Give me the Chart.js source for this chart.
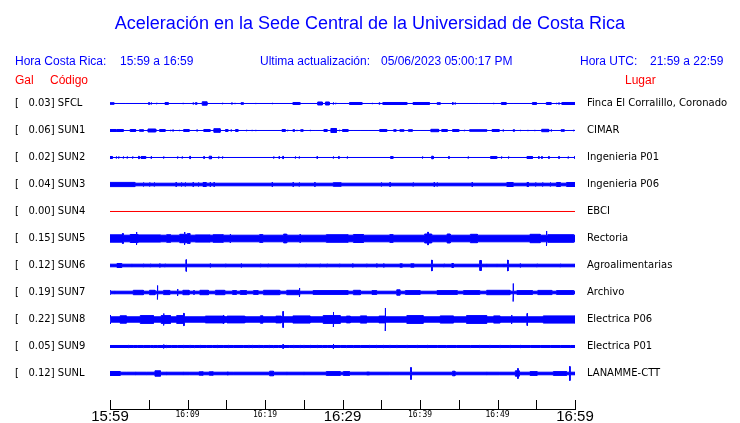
<!DOCTYPE html>
<html>
<head>
<meta charset="utf-8">
<script src="https://cdn.jsdelivr.net/npm/chart.js@4.4.0/dist/chart.umd.min.js"></script>
<style>
  html, body { margin: 0; padding: 0; background: #fff; }
  #wrap { position: relative; width: 740px; height: 423px; overflow: hidden;
          font-family: "Liberation Sans", Arial, sans-serif; }
  #wrap canvas { position: absolute; left: 0; top: 0; }
  .txt { position: absolute; white-space: pre; font-size: 12px; line-height: 14px; color: #0000ff; }
  .red { color: #ff0000; }
  #title { position: absolute; left: 0; top: 14px; width: 740px; text-align: center;
           font-size: 18px; line-height: 18px; color: #0000ff; }
</style>
</head>
<body>
<div id="wrap">
  <canvas id="sismo" width="740" height="423"></canvas>
  <div id="title">Aceleración en la Sede Central de la Universidad de Costa Rica</div>
  <div class="txt" style="left:15px;top:54px">Hora Costa Rica:</div>
  <div class="txt" style="left:120px;top:54px">15:59 a 16:59</div>
  <div class="txt" style="left:260px;top:54px">Ultima actualización:</div>
  <div class="txt" style="left:381px;top:54px">05/06/2023 05:00:17 PM</div>
  <div class="txt" style="left:580px;top:54px">Hora UTC:</div>
  <div class="txt" style="left:650px;top:54px">21:59 a 22:59</div>
  <div class="txt red" style="left:15px;top:73px">Gal</div>
  <div class="txt red" style="left:50px;top:73px">Código</div>
  <div class="txt red" style="left:625px;top:73px">Lugar</div>
</div>
<script>
// ── Datos ────────────────────────────────────────────────
const CODES = ["SFCL", "SUN1", "SUN2", "SUN3", "SUN4", "SUN5", "SUN6", "SUN7", "SUN8", "SUN9", "SUNL"];
const PEAK_GAL = [0.03, 0.06, 0.02, 0.04, 0.00, 0.15, 0.12, 0.19, 0.22, 0.05, 0.12];
const PLACES = ["Finca El Corralillo, Coronado", "CIMAR", "Ingenieria P01", "Ingenieria P06", "EBCI",
  "Rectoria", "Agroalimentarias", "Archivo", "Electrica P06", "Electrica P01", "LANAMME-CTT"];
const TIME_LABELS = ["15:59", "16:09", "16:19", "16:29", "16:39", "16:49", "16:59"];

// nivel de ruido de fondo de cada traza (1/27 de la separacion entre canales)
const BASE = [0.5, 0.5, 0.5, 1.8, 0.5, 3.8, 1.8, 1.8, 3.2, 1.5, 1.8];

// rafagas: [minuto inicio, minuto fin, semi-amplitud]
const SFCL_EV = [[0,0.5,1.3],[2.0,2.0,1],[5.0,5.0,1.5],[5.3,5.3,1.5],[6.0,6.0,1.2],[7.1,7.5,1.5],[9.4,9.4,1],
  [10.7,10.7,1.2],[11.0,11.2,1.3],[11.9,12.5,2.2],[14.5,14.5,1.2],[15.1,15.1,1],[15.7,15.7,1.2],[16.1,16.1,1],
  [16.9,17.2,1.3],[18.8,18.8,0.8],[20.9,20.9,1],[21.2,21.2,1],[23.6,24.5,1.5],[26.8,27.4,2],[27.8,28.3,2],
  [28.8,28.8,1.5],[29.1,29.1,1.2],[29.7,29.7,1],[30.5,30.5,1],[30.9,32.5,1.5],[33.8,33.8,1],[34.2,34.2,1],
  [34.7,34.8,1.2],[35.2,38.3,1.5],[39.1,41.2,1.5],[42.2,42.6,1.3],[44.2,44.2,1.5],[44.5,44.5,1.2],[47.5,47.5,0.8],
  [49.5,49.5,1],[50.5,51.1,1.5],[52.0,52.0,1],[54.5,55.0,1.5],[56.3,56.9,1.5],[57.6,57.6,1.2],[57.9,57.9,1.2],
  [58.3,60,1.5]];
const SUN1_EV = [[0,0.8,1.5],[0.9,1.7,1.5],[2.6,3.3,1.5],[3.8,4.3,1.3],[4.9,5.9,2],[6.4,7.1,1.5],[7.8,7.8,1.2],
  [8.1,8.1,1.2],[8.9,8.9,1],[9.5,10.2,1.5],[11.2,11.2,1.2],[12.1,12.9,1.5],[13.4,14.2,2.3],[14.9,15.2,1.5],
  [15.6,15.6,1.2],[16.2,16.5,1.5],[17.6,17.6,1.2],[18.3,18.3,1],[18.8,18.8,1],[22.2,22.6,1.5],[22.9,22.9,1.2],
  [23.6,23.8,1.3],[24.1,24.1,1],[24.6,24.9,1.3],[25.8,25.8,1],[26.5,26.5,1],[27.6,28.0,1.5],[28.5,29.2,2.5],
  [29.6,29.6,1.2],[30.0,30.7,1.5],[31.4,31.4,1],[32.3,32.3,1],[33.3,33.3,1],[34.8,35.7,1.5],[36.6,36.9,1.3],
  [37.4,37.9,1.3],[38.5,39.0,1.3],[40.0,40.0,1],[40.8,40.8,1],[41.4,42.4,1.7],[42.8,43.5,1.5],[44.2,45.0,1.5],
  [45.7,45.8,1.2],[46.4,48.6,1.3],[49.3,50.2,1.5],[50.7,50.7,1.2],[52.0,52.2,1.2],[52.9,52.9,1],[53.9,53.9,1],
  [54.8,54.8,1],[55.7,56.6,1.7],[56.9,56.9,1.2],[58.2,58.6,1.3],[59.4,59.4,1],[59.8,59.8,1.2]];
const SUN2_EV = [[0,0.3,1.5],[0.8,0.8,1.5],[1.1,1.1,1.5],[1.7,1.7,1.5],[2.2,2.2,1.5],[2.9,2.9,1.5],[3.7,3.7,1.8],
  [4.0,4.6,1.5],[5.3,5.3,1.8],[6.9,6.9,1.5],[8.7,8.7,1.5],[9.3,9.3,1.5],[10.3,10.3,1.8],[12.1,12.1,1.5],
  [12.8,13.1,1.8],[14.0,14.0,1.5],[14.5,14.5,1.5],[21.1,21.1,1.5],[21.8,21.8,1.5],[22.3,22.3,1.8],[23.9,23.9,1.5],
  [24.4,24.4,1.5],[26.7,26.7,1.5],[28.8,28.8,1.5],[29.5,29.5,1.5],[30.6,30.6,1.5],[36.2,36.5,1.5],[40.3,40.3,1.5],
  [41.5,41.7,1.8],[43.7,43.7,1.5],[46.2,46.2,1.5],[49.1,49.9,1.5],[50.5,50.5,1.5],[51.4,51.4,1.5],[53.8,54.5,1.5],
  [55.3,55.3,1.5],[55.7,55.7,1.5],[56.6,56.6,1.5],[57.9,57.9,1.5],[59.1,59.1,1.5],[60,60,1.5]];
const SUN3_EV = [[0,3.2,2.6],[4.3,4.3,2.5],[5.1,5.1,2.5],[5.7,5.7,2.5],[8.5,8.5,2.5],[9.2,9.2,2.5],[9.7,9.7,2.5],
  [10.7,10.7,2.5],[11.4,11.4,2.5],[12.0,12.4,2.5],[12.9,12.9,2.5],[13.4,13.4,2.5],[20.9,20.9,2.5],[23.6,23.6,2.5],
  [24.4,24.4,2.5],[26.4,26.4,2.5],[28.8,29.8,2.3],[35.0,35.0,2.5],[36.1,36.1,2.5],[39.1,39.1,2.5],[41.8,41.8,2.5],
  [42.2,42.2,2.5],[46.7,46.7,2.5],[51.2,52.0,2.5],[53.8,54.0,2.5],[54.9,54.9,2.5],[55.8,55.8,2.5],[56.8,56.8,2.5],
  [57.6,58.1,2.5],[58.9,60,2.5]];
const SUN4_EV = [];
const SUN5_EV = [[0,1.7,4.2],[1.6,1.7,5.5],[2.6,3.6,4.5],[3.4,3.4,7],[3.6,6.5,4.1],[7.3,7.8,4.3],[9.0,10.1,4.7],
  [9.6,9.6,7],[10.0,10.3,5.5],[11.0,12.9,4.1],[13.3,14.6,4.3],[15.5,15.5,5],[19.3,19.7,4.4],[22.4,22.8,4.9],
  [24.5,24.5,4.5],[27.9,30.7,4.3],[31.4,32.7,4.5],[36.1,36.5,4.4],[40.6,41.5,5],[41.0,41.0,7],[43.5,43.9,5],
  [46.5,47.4,4.7],[54.2,55.5,4.7],[56.3,56.3,8],[56.5,59.8,4.3]];
const SUN6_EV = [[0.9,1.5,2.5],[2.8,2.8,2],[4.3,4.3,2.2],[5.2,5.2,2.2],[6.4,6.4,2.2],[7.1,7.1,2.2],[9.8,9.8,6.3],
  [12.9,12.9,2.2],[14.9,14.9,2.2],[16.9,16.9,2.2],[19.4,19.4,2.2],[20.4,20.4,2.2],[24.4,24.4,2.2],[25.3,25.3,2.2],
  [27.1,27.1,2.2],[28.0,28.0,2.2],[29.6,29.6,2.2],[31.3,31.3,2.2],[33.1,33.1,2.2],[34.4,34.4,2.2],[35.3,35.3,2.2],
  [37.4,37.7,2.2],[38.8,39.2,2.2],[41.5,41.5,6],[43.1,43.1,2.2],[44.1,44.3,2.5],[47.7,47.9,5.5],[48.6,48.6,2],
  [49.9,49.9,2],[50.8,50.8,2],[51.3,51.3,6],[52.9,52.9,2.2],[55.1,55.1,2.2],[58.1,58.1,2.2]];
const SUN7_EV = [[0,0,2.5],[0.6,0.6,2],[3.0,4.3,2.7],[5.1,5.8,2.7],[6.1,6.1,7.5],[6.9,7.7,2.6],[8.7,8.7,4],
  [9.4,10.2,2.7],[10.8,10.8,2.5],[11.6,12.7,2.7],[13.6,14.8,2.7],[15.8,16.3,2.4],[16.8,17.6,2.4],[18.5,19.1,2.4],
  [19.8,21.9,2.7],[22.8,24.5,2.7],[24.4,24.4,5],[26.2,30.7,2.4],[31.4,32.3,2.7],[33.8,34.4,2.4],[37.0,37.4,3.2],
  [38.1,40.0,2.4],[42.2,44.8,2.4],[45.6,47.7,2.4],[48.6,51.6,2.7],[52.0,52.0,9.5],[52.5,54.5,2.4],[55.2,57.0,2.6],
  [57.6,59.8,2.4]];
const SUN8_EV = [[0,0,5],[1.3,2.1,4.2],[3.9,5.6,4.4],[6.6,7.8,4.4],[6.9,6.9,6.5],[8.6,9.5,4.4],[9.5,9.5,6.7],
  [12.3,14.8,3.9],[14.6,14.6,5],[15.1,17.4,3.9],[19.4,19.7,4.2],[21.4,22.1,3.9],[22.3,22.3,8.5],[23.6,25.8,4.1],
  [27.5,29.7,4.4],[28.8,28.8,8],[30.5,31.0,3.9],[32.3,33.1,4.1],[34.7,35.5,3.9],[35.5,35.5,12],[38.3,40.4,4.4],
  [42.6,44.3,4.1],[46.0,48.6,4.4],[49.5,50.3,4.1],[51.8,51.8,5],[53.8,53.8,6.5],[55.9,60,4.1]];
const SUN9_EV = [[2.4,2.4,1.8],[3.0,3.0,1.8],[3.5,3.5,1.8],[4.3,4.3,1.8],[5.2,5.2,1.8],[5.6,5.6,1.8],[6.1,6.1,1.8],
  [6.9,6.9,2.5],[7.3,7.3,1.8],[7.9,7.9,1.8],[8.7,8.7,1.8],[9.5,9.5,1.8],[10.3,10.3,1.8],[10.9,10.9,1.8],
  [11.6,11.6,1.8],[12.4,12.4,1.8],[13.2,13.2,1.8],[13.8,13.8,1.8],[14.6,14.6,1.8],[15.3,15.3,1.8],[15.9,15.9,1.8],
  [17.2,17.2,1.8],[17.9,17.9,1.8],[18.4,18.4,1.8],[19.2,19.2,1.8],[19.8,19.8,1.8],[20.5,20.5,1.8],[21.1,21.1,1.8],
  [21.7,21.7,1.8],[22.3,22.3,2.5],[23.1,23.1,1.8],[23.7,23.7,1.8],[24.5,24.5,1.8],[25.0,25.0,1.8],[25.8,25.8,1.8],
  [26.7,26.7,1.8],[27.4,27.4,1.8],[28.0,28.0,1.8],[28.8,28.8,3],[29.7,29.7,1.8],[30.5,30.5,1.8],[31.4,31.4,1.8],
  [32.3,32.3,1.8],[33.5,33.5,1.8],[34.4,34.4,1.8],[35.3,35.3,1.8],[36.1,36.1,1.8],[37.0,37.0,1.8],[38.3,38.3,1.8],
  [39.6,39.6,1.8],[40.9,40.9,1.8],[42.2,42.2,1.8],[43.4,43.4,1.8],[44.7,44.7,1.8],[46.5,46.5,1.8],[47.7,47.7,1.8],
  [49.0,49.0,1.8],[50.3,50.3,1.8],[51.6,51.6,1.8],[52.9,52.9,1.8],[54.2,54.2,1.8],[55.5,55.5,1.8],[56.8,56.8,1.8],
  [58.1,58.1,1.8],[59.4,59.4,1.8]];
const SUNL_EV = [[0,1.3,2.5],[2.1,2.1,2],[3.3,3.3,2],[4.7,4.7,2],[5.8,6.5,3.2],[7.3,7.3,2],[9.4,9.4,2],[10.2,10.2,2],
  [11.5,12.0,2.2],[12.8,13.3,2.2],[15.1,15.3,2],[15.9,15.9,2],[20.6,21.1,2.8],[22.8,22.8,2],[25.0,25.0,2],
  [27.9,29.7,2.4],[30.1,30.9,2.4],[33.1,33.5,2],[36.0,36.0,2],[38.8,38.8,6.5],[44.2,44.5,2.8],[48.6,48.6,2],
  [50.2,50.2,2],[52.3,52.8,3.2],[52.6,52.6,5.5],[54.2,55.1,2.4],[57.2,58.9,2.4],[59.3,59.3,7.5]];

const EVENTS = [SFCL_EV, SUN1_EV, SUN2_EV, SUN3_EV, SUN4_EV, SUN5_EV, SUN6_EV, SUN7_EV, SUN8_EV, SUN9_EV, SUNL_EV];
const COLORS = CODES.map((c) => (c === "SUN4" ? "#ff0000" : "#0000ff"));

// ── Helpers ──────────────────────────────────────────────
const AMP_UNIT = 1 / 27;   // una separacion entre canales = 27 unidades de amplitud
const SPIKE_W = 0.06;      // ancho minimo de un pico aislado, en minutos
const STROKE = 1;          // el trazo del borde ya suma medio pixel por lado

// Contorno cerrado (arriba ida, abajo vuelta) de la envolvente escalonada
function envelope(row, base, events) {
  const evs = events.map(([s, e, a]) => {
    if (e <= s) e = s + SPIKE_W;
    if (e > 60) { e = 60; s = Math.min(s, 60 - SPIKE_W); }
    return [s, e, a];
  });
  const cuts = [...new Set([0, 60, ...evs.flatMap(([s, e]) => [s, e])])].sort((a, b) => a - b);
  const steps = [];
  for (let i = 0; i < cuts.length - 1; i++) {
    const t0 = cuts[i], t1 = cuts[i + 1];
    let a = base;
    evs.forEach(([s, e, amp]) => { if (s < t1 && e > t0) a = Math.max(a, amp); });
    steps.push([t0, t1, Math.max(0, a - STROKE / 2) * AMP_UNIT]);
  }
  const pts = [];
  steps.forEach(([t0, t1, h]) => {
    pts.push({ x: t0, y: row - h }, { x: t1, y: row - h });
  });
  for (let i = steps.length - 1; i >= 0; i--) {
    const [t0, t1, h] = steps[i];
    pts.push({ x: t1, y: row + h }, { x: t0, y: row + h });
  }
  return pts;
}

const rowTicks = (scale) => { scale.ticks = CODES.map((_, i) => ({ value: i })); };
const noEdgePad = (width) => (s) => { s.width = width; s.paddingTop = 0; s.paddingBottom = 0; };

// marcas del eje X hacia arriba
const upTicks = {
  id: "upTicks",
  afterDraw(chart) {
    const { ctx, chartArea, scales: { x } } = chart;
    ctx.save();
    ctx.strokeStyle = "#000";
    ctx.lineWidth = 1;
    x.ticks.forEach((t) => {
      const px = Math.round(x.getPixelForValue(t.value)) + 0.5;
      ctx.beginPath();
      ctx.moveTo(px, chartArea.bottom - 9);
      ctx.lineTo(px, chartArea.bottom);
      ctx.stroke();
    });
    ctx.restore();
  },
};

// ── Grafico ──────────────────────────────────────────────
new Chart(document.getElementById("sismo"), {
  type: "line",
  data: {
    datasets: CODES.map((code, i) => ({
      label: code,
      data: envelope(i, BASE[i], EVENTS[i]),
      borderColor: COLORS[i],
      backgroundColor: COLORS[i],
      borderWidth: STROKE,
      pointRadius: 0,
      tension: 0,
      fill: "shape",
    })),
  },
  options: {
    responsive: false,
    animation: false,
    events: [],
    layout: { padding: { top: 90, left: 15, right: 0, bottom: 0 } },
    plugins: { legend: { display: false }, tooltip: { enabled: false }, title: { display: false } },
    scales: {
      x: {
        type: "linear",
        min: 0,
        max: 60,
        grid: { display: false, drawTicks: false },
        border: { display: true, color: "#000", width: 1 },
        afterFit: (s) => { s.height = 14; },
        ticks: {
          stepSize: 5,
          autoSkip: false,
          maxRotation: 0,
          padding: 0,
          color: "#000",
          callback: (v) => (v % 10 === 0 ? TIME_LABELS[v / 10] : ""),
          font: (ctx) => (ctx.tick && ctx.tick.value % 30 === 0
            ? { family: "Liberation Sans", size: 15, lineHeight: 1 }
            : { family: "DejaVu Sans Mono", size: 8, lineHeight: 1.6 }),
        },
      },
      y: {
        type: "linear",
        position: "left",
        reverse: true,
        min: -0.5,
        max: 11.315,
        grid: { display: false, drawTicks: false },
        border: { display: false },
        afterBuildTicks: rowTicks,
        afterFit: noEdgePad(95),
        ticks: {
          autoSkip: false,
          crossAlign: "far",
          color: "#000",
          font: { family: "DejaVu Sans", size: 10 },
          callback: (v) => `[   ${PEAK_GAL[v].toFixed(2)}] ${CODES[v]}`,
        },
      },
      y2: {
        type: "linear",
        position: "right",
        reverse: true,
        min: -0.5,
        max: 11.315,
        grid: { display: false, drawTicks: false },
        border: { display: false },
        afterBuildTicks: rowTicks,
        afterFit: noEdgePad(165),
        ticks: {
          autoSkip: false,
          padding: 12,
          color: "#000",
          font: { family: "DejaVu Sans", size: 10 },
          callback: (v) => PLACES[v],
        },
      },
    },
  },
  plugins: [upTicks],
});
</script>
</body>
</html>
